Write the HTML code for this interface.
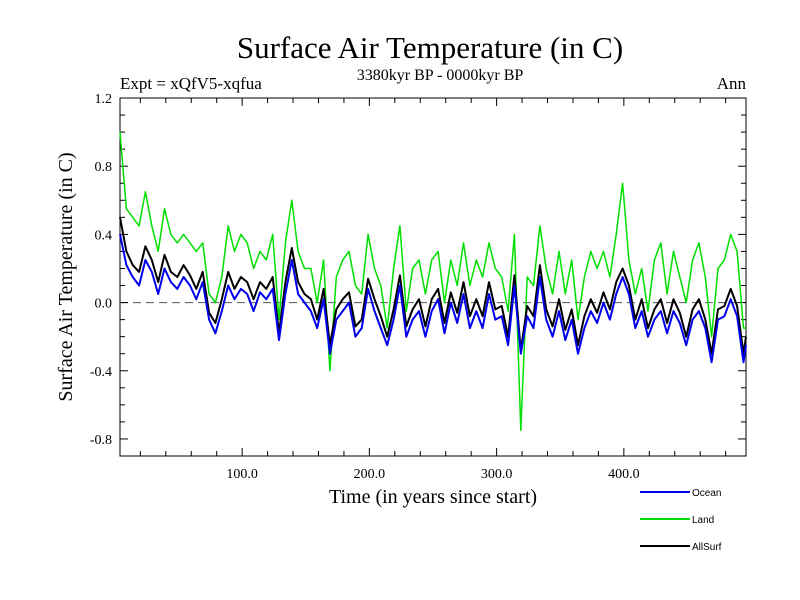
<!DOCTYPE html>
<html><head><meta charset="utf-8"><style>
body{margin:0;background:#fff}
svg{display:block}
.s{font-family:"Liberation Serif",serif}
.a{font-family:"Liberation Sans",sans-serif}
</style></head><body>
<svg id="c" width="800" height="600">
<text class="s" x="430" y="58" font-size="31" text-anchor="middle">Surface Air Temperature (in C)</text>
<text class="s" x="120" y="89" font-size="17">Expt = xQfV5-xqfua</text>
<text class="s" x="440" y="80" font-size="16" text-anchor="middle">3380kyr BP - 0000kyr BP</text>
<text class="s" x="746" y="89" font-size="17" text-anchor="end">Ann</text>
<text class="s" x="72" y="277" font-size="20" text-anchor="middle" transform="rotate(-90 72 277)">Surface Air Temperature (in C)</text>
<text class="s" x="433" y="503" font-size="20" text-anchor="middle">Time (in years since start)</text>
<g id="ax"></g><g id="ser"></g><g id="leg"></g>
</svg>
<script>
const ocean=[0.40,0.22,0.15,0.10,0.25,0.18,0.05,0.20,0.12,0.08,0.15,0.10,0.02,0.12,-0.10,-0.18,-0.05,0.10,0.02,0.08,0.05,-0.05,0.06,0.02,0.08,-0.22,0.05,0.25,0.05,0.00,-0.05,-0.15,0.02,-0.30,-0.10,-0.05,0.00,-0.20,-0.15,0.08,-0.05,-0.15,-0.25,-0.10,0.10,-0.20,-0.10,-0.05,-0.20,-0.05,0.02,-0.18,0.00,-0.12,0.05,-0.15,-0.05,-0.15,0.05,-0.10,-0.08,-0.25,0.10,-0.30,-0.08,-0.15,0.15,-0.10,-0.20,-0.05,-0.22,-0.10,-0.30,-0.15,-0.05,-0.12,0.00,-0.10,0.05,0.15,0.05,-0.15,-0.05,-0.20,-0.10,-0.05,-0.18,-0.05,-0.12,-0.25,-0.10,-0.05,-0.15,-0.35,-0.10,-0.08,0.02,-0.08,-0.35,-0.25];
const land=[1.00,0.55,0.50,0.45,0.65,0.45,0.30,0.55,0.40,0.35,0.40,0.35,0.30,0.35,0.05,0.00,0.15,0.45,0.30,0.40,0.35,0.20,0.30,0.25,0.40,-0.10,0.35,0.60,0.30,0.20,0.20,0.00,0.25,-0.40,0.15,0.25,0.30,0.10,0.05,0.40,0.20,0.10,-0.15,0.20,0.45,-0.05,0.20,0.25,0.05,0.25,0.30,0.00,0.25,0.10,0.35,0.10,0.25,0.15,0.35,0.20,0.15,-0.05,0.40,-0.75,0.15,0.10,0.45,0.20,0.05,0.30,0.05,0.25,-0.10,0.15,0.30,0.20,0.30,0.15,0.40,0.70,0.25,0.05,0.20,-0.05,0.25,0.35,0.05,0.30,0.15,0.00,0.25,0.35,0.15,-0.20,0.20,0.25,0.40,0.30,-0.15,-0.15];
const allsurf=[0.50,0.30,0.22,0.18,0.33,0.25,0.12,0.28,0.18,0.15,0.22,0.16,0.08,0.18,-0.06,-0.12,0.02,0.18,0.08,0.15,0.12,0.02,0.12,0.08,0.15,-0.18,0.12,0.32,0.12,0.05,0.02,-0.10,0.08,-0.25,-0.04,0.02,0.06,-0.14,-0.10,0.14,0.02,-0.08,-0.20,-0.04,0.16,-0.14,-0.04,0.02,-0.14,0.02,0.08,-0.12,0.06,-0.06,0.12,-0.08,0.02,-0.08,0.12,-0.04,-0.02,-0.20,0.16,-0.28,-0.02,-0.08,0.22,-0.04,-0.14,0.02,-0.16,-0.04,-0.25,-0.08,0.02,-0.06,0.06,-0.04,0.12,0.20,0.10,-0.10,0.02,-0.15,-0.04,0.02,-0.12,0.02,-0.06,-0.20,-0.04,0.02,-0.10,-0.30,-0.04,-0.02,0.08,-0.02,-0.30,-0.20];
const yearStart=4, yearStep=5;
const yTicks=[-0.8,-0.4,0.0,0.4,0.8,1.2];
const yTickLabels=["-0.8","-0.4","0.0","0.4","0.8","1.2"];
const xTicks=[100,200,300,400];
const xTickLabels=["100.0","200.0","300.0","400.0"];
const X0=120,X1=746,Y0=98,Y1=456,xmin=4,xmax=496,ymin=-0.9,ymax=1.2;
const xs=v=>X0+(v-xmin)/(xmax-xmin)*(X1-X0);
const ys=v=>Y1-(v-ymin)/(ymax-ymin)*(Y1-Y0);
const NS="http://www.w3.org/2000/svg";
function mk(p,t,a){const e=document.createElementNS(NS,t);for(const k in a)e.setAttribute(k,a[k]);p.appendChild(e);return e;}
const ax=document.getElementById('ax');
let f=mk(ax,'rect',{x:X0,y:Y0,width:X1-X0,height:Y1-Y0,fill:'none',stroke:'#000','stroke-width':1});


let z=mk(ax,'line',{x1:X0,x2:X1,y1:ys(0),y2:ys(0),stroke:'#555','stroke-dasharray':'8,5'});


for(let v=-0.9;v<=1.2001;v+=0.1){const y=ys(v);const maj=Math.abs(Math.round(v*10)%4)===0;const L=maj?8:5;
mk(ax,'line',{x1:X0,x2:X0+L,y1:y,y2:y,stroke:'#000'});mk(ax,'line',{x1:X1,x2:X1-L,y1:y,y2:y,stroke:'#000'});}
for(let v=20;v<xmax;v+=20){const x=xs(v);const L=v%100===0?8:5;
mk(ax,'line',{x1:x,x2:x,y1:Y0,y2:Y0+L,stroke:'#000'});mk(ax,'line',{x1:x,x2:x,y1:Y1,y2:Y1-L,stroke:'#000'});}
yTicks.forEach((v,i)=>{const t=mk(ax,'text',{x:X0-8,y:ys(v)+5,'text-anchor':'end','font-size':14,class:'s'});t.textContent=yTickLabels[i];

});
xTicks.forEach((v,i)=>{const t=mk(ax,'text',{x:xs(v),y:478,'text-anchor':'middle','font-size':14,class:'s'});t.textContent=xTickLabels[i];

});
const ser=document.getElementById('ser');
function line(d,c,n,w){const pts=d.map((v,i)=>{const yr=Math.min(xmax,yearStart+i*yearStep);return xs(yr).toFixed(1)+','+ys(v).toFixed(1);}).join(' ');
const p=mk(ser,'polyline',{points:pts,fill:'none',stroke:c,'stroke-width':w,'stroke-linejoin':'round'});

}
line(land,'#00e000','land-line',1.5);
line(allsurf,'#000','allsurf-line',2);
line(ocean,'#0000ee','ocean-line',2);
const leg=document.getElementById('leg');
[['Ocean','#0000ee',492],['Land','#00e000',519],['AllSurf','#000',546]].forEach(a=>{
const l=mk(leg,'line',{x1:640,x2:690,y1:a[2],y2:a[2],stroke:a[1],'stroke-width':2});


const t=mk(leg,'text',{x:692,y:a[2]+4,'font-size':10,class:'a'});t.textContent=a[0];

});
</script>
</body></html>
